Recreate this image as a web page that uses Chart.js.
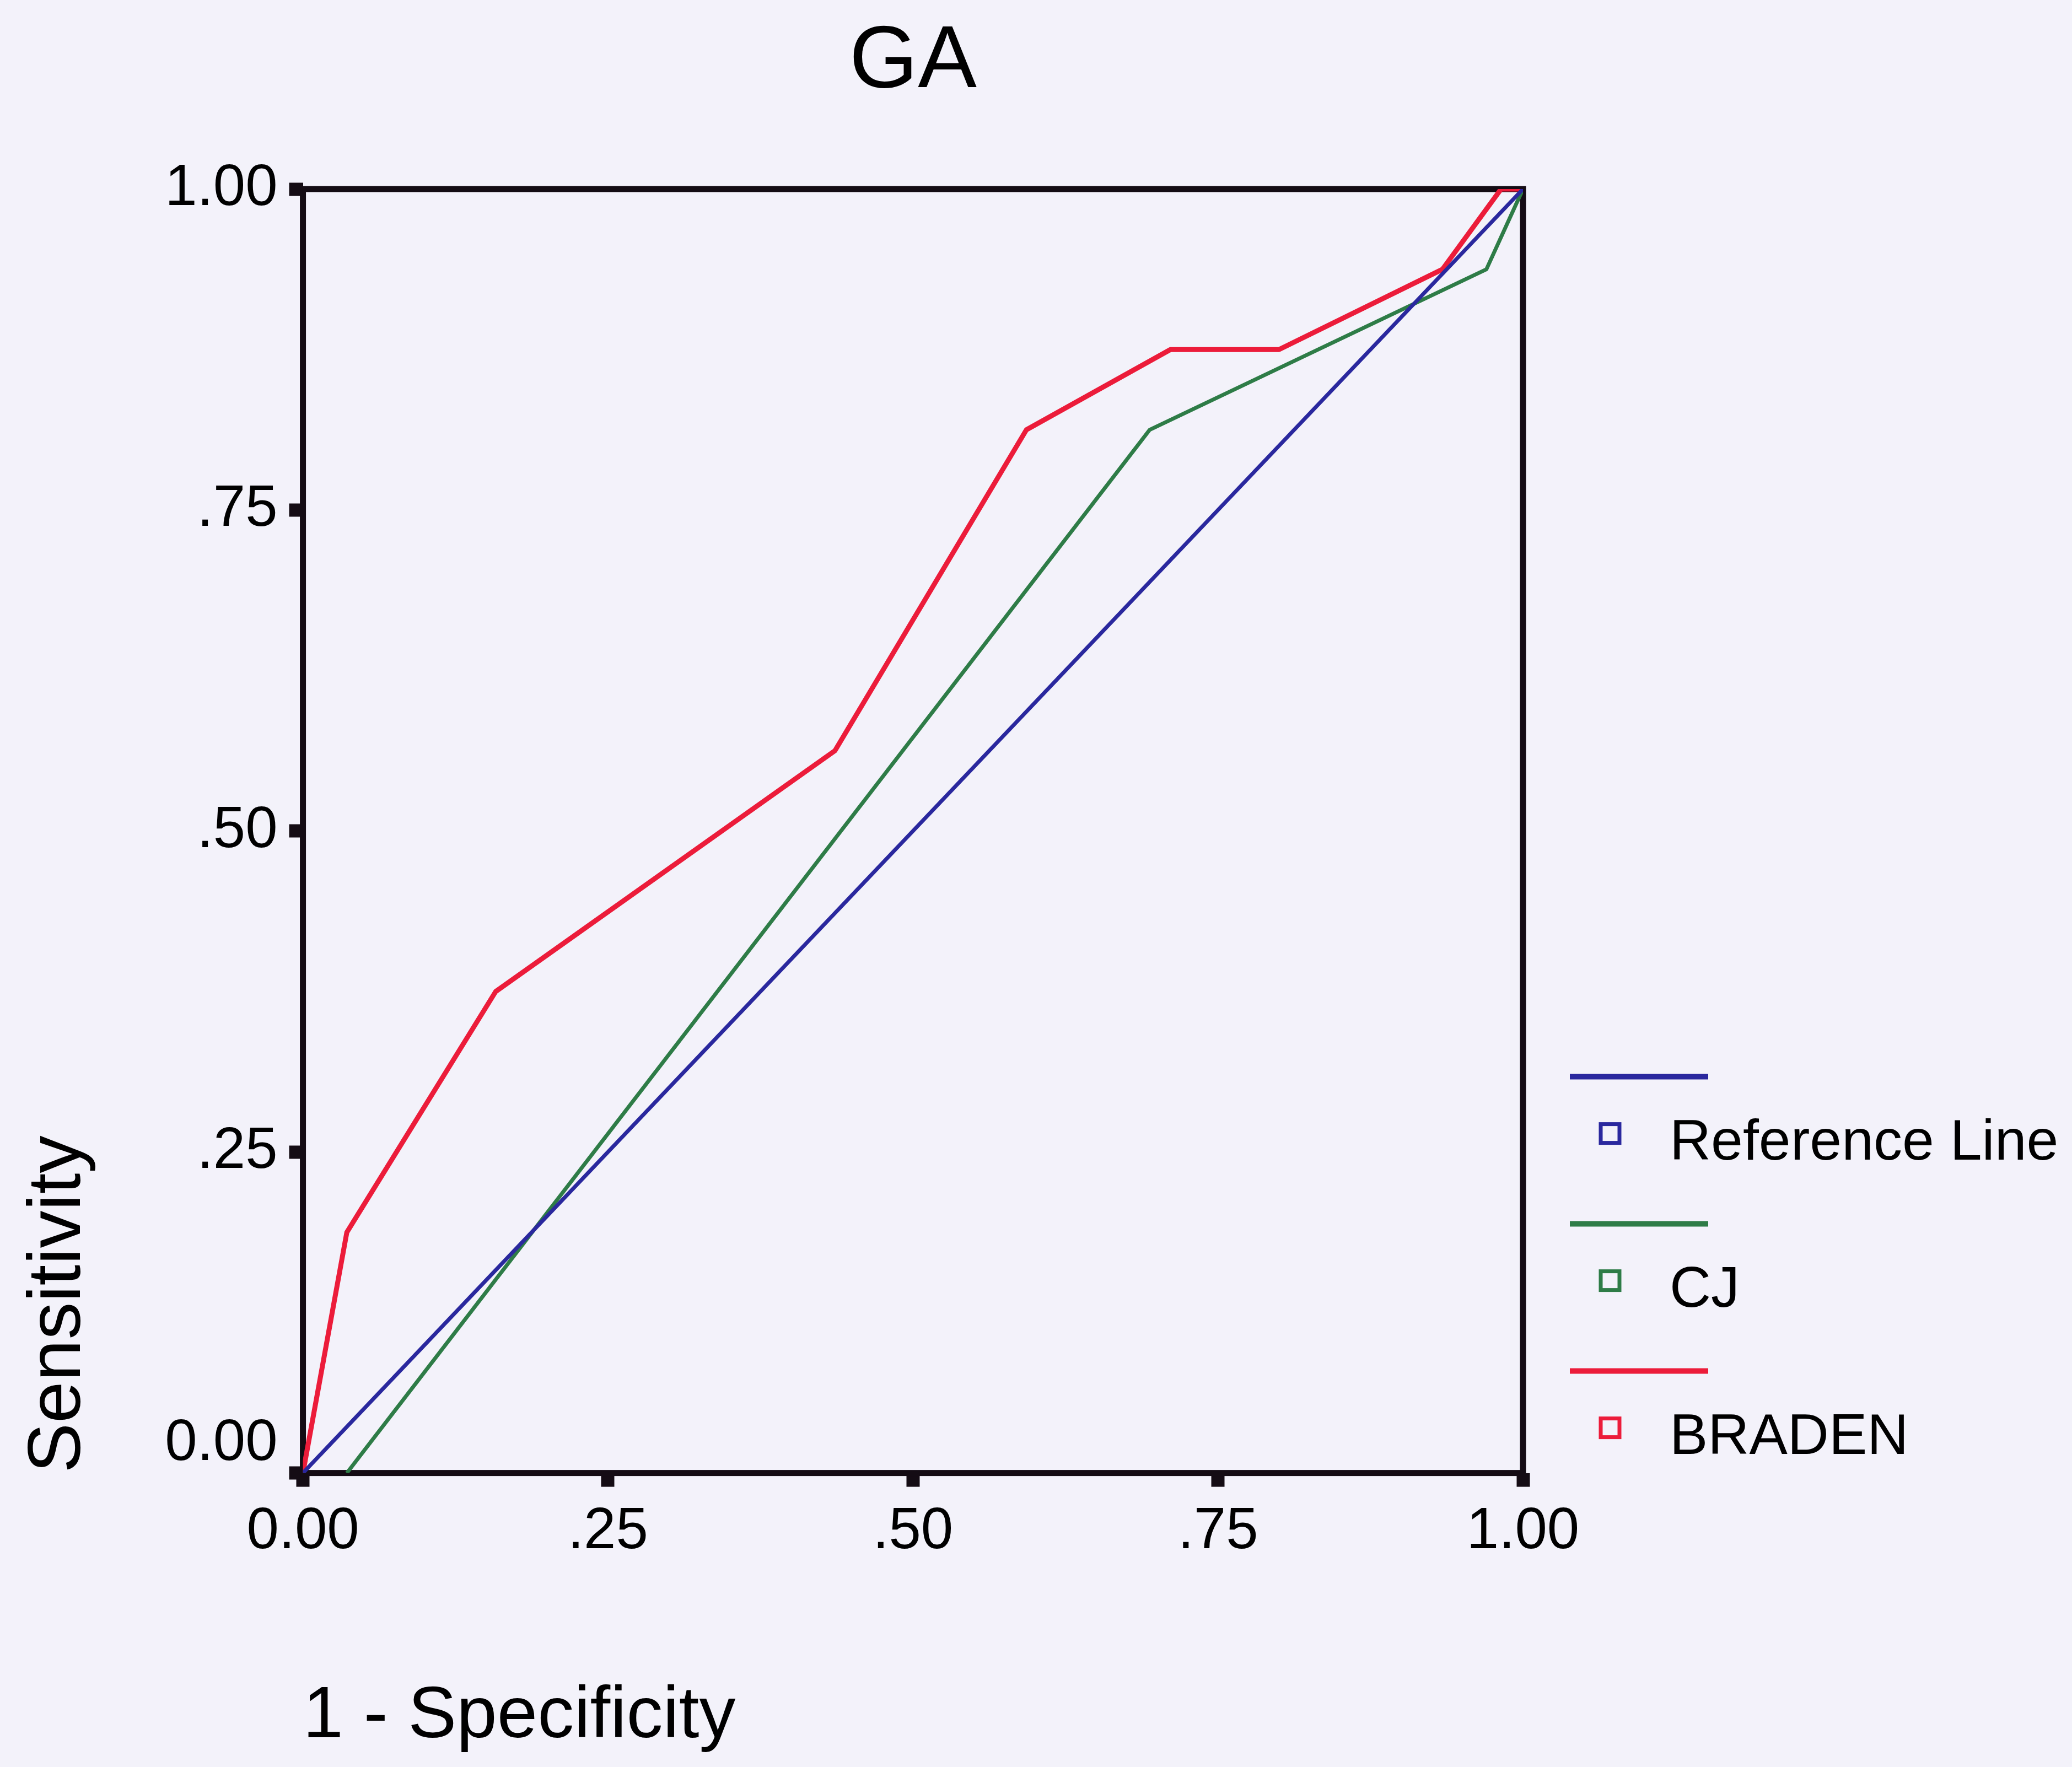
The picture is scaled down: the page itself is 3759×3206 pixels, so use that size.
<!DOCTYPE html>
<html>
<head>
<meta charset="utf-8">
<title>GA</title>
<script src="https://cdn.jsdelivr.net/npm/chart.js@4.4.1/dist/chart.umd.min.js"></script>
<style>
  html, body { margin: 0; padding: 0; background: #f3f2fa; }
  canvas { display: block; }
</style>
</head>
<body>
<canvas id="roc" width="3759" height="3206"></canvas>
<script>
// ROC curves, GA group
const seriesNames = ['Reference Line', 'CJ', 'BRADEN'];
const seriesColors = ['#2a289e', '#2e7c47', '#ec1c3a'];
const seriesWidths = [7, 7, 9];

// 1 - specificity (x) and sensitivity (y) for each curve
const refX = [0, 1];
const refY = [0, 1];

const cjX = [0.036, 0.694, 0.970, 1];
const cjY = [0, 0.8125, 0.9375, 1];

const bradenX = [0, 0.036, 0.158, 0.436, 0.593, 0.711, 0.800, 0.934, 0.982, 1];
const bradenY = [0, 0.1875, 0.375, 0.5625, 0.8125, 0.875, 0.875, 0.9375, 1, 1];

const tickValues = [0, 0.25, 0.5, 0.75, 1];
const tickLabels = ['0.00', '.25', '.50', '.75', '1.00'];

const FONT = "'Liberation Sans', Arial, Helvetica, sans-serif";
const INK = '#140c14';

function toPoints(xs, ys) {
  return xs.map((x, i) => ({ x: x, y: ys[i] }));
}

function labelFor(v) {
  const i = tickValues.indexOf(v);
  return i < 0 ? '' : tickLabels[i];
}

// page background
const paperFill = {
  id: 'paperFill',
  beforeDraw(chart) {
    const { ctx, width, height } = chart;
    ctx.save();
    ctx.fillStyle = '#f3f2fa';
    ctx.fillRect(0, 0, width, height);
    ctx.restore();
  }
};

// closed frame around the plotting area, under the curves
const plotFrame = {
  id: 'plotFrame',
  beforeDatasetsDraw(chart) {
    const { ctx, chartArea: a } = chart;
    ctx.save();
    ctx.strokeStyle = INK;
    ctx.lineWidth = 11;
    ctx.strokeRect(a.left, a.top, a.right - a.left, a.bottom - a.top);
    ctx.restore();
  }
};

// legend: a line sample above a small open square with the series name
const rocLegend = {
  id: 'rocLegend',
  afterDraw(chart) {
    const { ctx, chartArea: a } = chart;
    const x0 = a.right;
    ctx.save();
    chart.data.datasets.forEach((ds, i) => {
      const lineY = a.bottom - 719 + i * 267;
      ctx.strokeStyle = ds.borderColor;
      ctx.lineWidth = 10;
      ctx.beginPath();
      ctx.moveTo(x0 + 85, lineY);
      ctx.lineTo(x0 + 336, lineY);
      ctx.stroke();

      const sq = 34;
      const sx = x0 + 158;
      const sy = lineY + 103;
      ctx.lineWidth = 7;
      ctx.strokeRect(sx - sq / 2, sy - sq / 2, sq, sq);

      ctx.fillStyle = '#000';
      ctx.font = '104px ' + FONT;
      ctx.textAlign = 'left';
      ctx.textBaseline = 'middle';
      ctx.fillText(ds.label, x0 + 266, lineY + 122);
    });
    ctx.restore();
  }
};

const seriesData = [toPoints(refX, refY), toPoints(cjX, cjY), toPoints(bradenX, bradenY)];

Chart.defaults.font.family = FONT;
Chart.defaults.color = '#000';

new Chart(document.getElementById('roc'), {
  type: 'line',
  data: {
    datasets: seriesNames.map((name, i) => ({
      label: name,
      data: seriesData[i],
      borderColor: seriesColors[i],
      backgroundColor: seriesColors[i],
      borderWidth: seriesWidths[i],
      borderJoinStyle: 'round',
      pointRadius: 0,
      tension: 0,
      fill: false
    }))
  },
  options: {
    responsive: false,
    devicePixelRatio: 1,
    animation: false,
    layout: { padding: { left: 10, right: 996, top: 0, bottom: 0 } },
    plugins: {
      legend: { display: false },
      tooltip: { enabled: false },
      title: {
        display: true,
        text: 'GA',
        fullSize: false,
        color: '#000',
        font: { size: 160, weight: 'normal', lineHeight: 1.2 },
        padding: { top: 18, bottom: 133 }
      }
    },
    scales: {
      x: {
        type: 'linear',
        min: 0,
        max: 1,
        afterBuildTicks: (s) => { s.ticks = tickValues.map(v => ({ value: v })); },
        border: { display: false },
        grid: {
          drawOnChartArea: false,
          drawTicks: true,
          color: INK,
          tickColor: INK,
          tickLength: 25,
          tickWidth: 24
        },
        ticks: {
          padding: 30,
          color: '#000',
          font: { size: 105, lineHeight: 1.0 },
          maxRotation: 0,
          callback: (v) => labelFor(v)
        },
        title: {
          display: true,
          text: '1 - Specificity',
          align: 'start',
          color: '#000',
          font: { size: 132, lineHeight: 1.2 },
          padding: { top: 174, bottom: 11 }
        }
      },
      y: {
        type: 'linear',
        min: 0,
        max: 1,
        afterBuildTicks: (s) => { s.ticks = tickValues.map(v => ({ value: v })); },
        border: { display: false },
        grid: {
          drawOnChartArea: false,
          drawTicks: true,
          color: INK,
          tickColor: INK,
          tickLength: 25,
          tickWidth: 24
        },
        ticks: {
          padding: 21,
          color: '#000',
          font: { size: 105, lineHeight: 1.0 },
          // the origin label sits a little above its tick
          callback: (v) => (v === 0 ? [labelFor(v), ''] : labelFor(v))
        },
        title: {
          display: true,
          text: 'Sensitivity',
          align: 'start',
          color: '#000',
          font: { size: 136, lineHeight: 1.2 },
          padding: { top: 16, bottom: 89 }
        }
      }
    }
  },
  plugins: [paperFill, plotFrame, rocLegend]
});
</script>
</body>
</html>
